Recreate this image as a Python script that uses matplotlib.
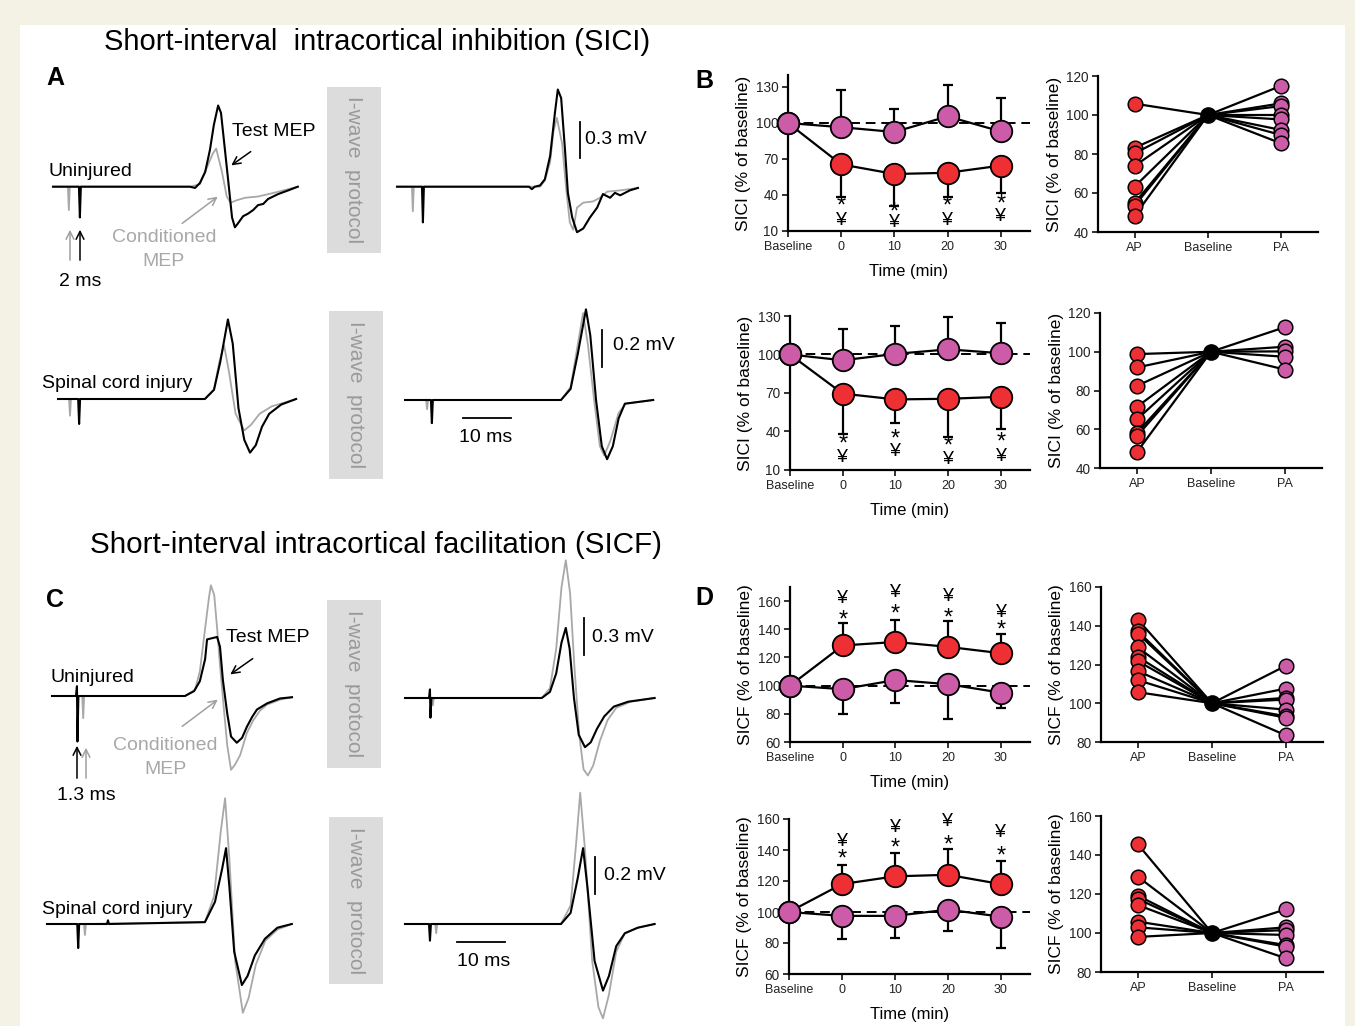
import matplotlib.pyplot as plt
from matplotlib.patches import Rectangle
from matplotlib.transforms import offset_copy

plt.rcParams['font.family'] = ['Liberation Sans', 'DejaVu Sans']

W, H = 1355, 1026
RED = '#ee3034'
MAG = '#cc5ba8'
GREY = '#a8a8a8'

# ---- time course data (x: Baseline, 0, 10, 20, 30 min) ----
time_labels = ['Baseline', '0', '10', '20', '30']
time_pos = [-1, 0, 1, 2, 3]

sici_unj_ap = [100, 65.5, 57.5, 58.5, 64.5]
sici_unj_ap_err = [0, 27.5, 26.5, 20, 22.5]
sici_unj_pa = [100, 96.5, 92.5, 105.5, 93]
sici_unj_pa_err = [0, 31, 19, 26, 28]
sici_unj_star = [30, 25, 30, 32.4]
sici_unj_yen = [19, 17, 18.4, 21.8]

sici_sci_ap = [100, 69.5, 65, 65.5, 67]
sici_sci_ap_err = [0, 31.5, 18.5, 29.5, 25]
sici_sci_pa = [100, 95.5, 100.5, 104, 101]
sici_sci_pa_err = [0, 24, 21.5, 25, 23.5]
sici_sci_star = [30, 33.8, 28, 31.2]
sici_sci_yen = [19.8, 24.2, 17.8, 20.9]

sicf_unj_ap = [100, 128.5, 131, 127.5, 123]
sicf_unj_ap_err = [0, 16, 15.5, 18.7, 13.3]
sicf_unj_pa = [100, 97.5, 104, 101, 95]
sicf_unj_pa_err = [0, 17.5, 16.3, 24.6, 11]
sicf_unj_star = [150.5, 154.5, 151.7, 143.4]
sicf_unj_yen = [162, 166, 163, 152]

sicf_sci_ap = [100, 118, 123, 124, 118]
sicf_sci_ap_err = [0, 12.3, 15, 16.6, 15.1]
sicf_sci_pa = [100, 97.5, 97.5, 101.5, 97]
sicf_sci_pa_err = [0, 15.1, 14.5, 13.5, 20.4]
sicf_sci_star = [138, 145, 147, 139.7]
sicf_sci_yen = [145.6, 154.2, 158.5, 151]

# ---- individual data (AP / Baseline / PA) ----
ind_labels = ['AP', 'Baseline', 'PA']
sici_unj_ind_ap = [105.8, 83.2, 80.3, 73.9, 63.3, 54.9, 53.5, 48.3]
sici_unj_ind_pa = [115, 106, 104.6, 100, 97.7, 92.3, 89.7, 85.4]
sici_sci_ind_ap = [98.8, 91.9, 82.4, 71.6, 65.1, 58.2, 56.5, 48.3]
sici_sci_ind_pa = [112.7, 102.6, 100.2, 97.4, 90.8]
sicf_unj_ind_ap = [143.1, 137.1, 135.9, 128.8, 123.9, 121.7, 116.5, 111.9, 105.7]
sicf_unj_ind_pa = [119.4, 107.6, 102.8, 101.9, 96.7, 93.3, 92.5, 83.4]
sicf_sci_ind_ap = [145.4, 128.8, 119.1, 117.4, 114.3, 105.8, 102.9, 98]
sicf_sci_ind_pa = [112.2, 102.9, 101.5, 99, 93.8, 93, 87]

# ---- example MEP traces (ms, mV) ----
a_unj_l_test = [(0, 0), (5.4, 0), (5.6, -0.25), (5.8, 0), (28.5, 0), (29.6, -0.01), (30.6, 0.03),
                (31.7, 0.12), (32.7, 0.30), (33.5, 0.50), (34.4, 0.66), (35.0, 0.60), (35.6, 0.38),
                (36.5, 0.05), (37.3, -0.25), (37.9, -0.33), (38.5, -0.30), (39.6, -0.24), (40.6, -0.22),
                (41.7, -0.19), (42.7, -0.15), (43.8, -0.14), (44.8, -0.10), (46.9, -0.06), (49.0, -0.03),
                (51.0, 0)]
a_unj_l_cond = [(0, 0), (3.1, 0), (3.3, -0.19), (3.5, 0), (28.5, 0), (30.6, 0.02), (32.0, 0.15),
                (33.3, 0.27), (34.0, 0.31), (35.2, 0.12), (36.2, -0.08), (37.0, -0.13), (38.3, -0.11),
                (40.0, -0.09), (42.7, -0.08), (46.0, -0.05), (51.0, 0)]
a_unj_r_test = [(0, 0), (5.2, 0), (5.4, -0.29), (5.6, 0), (27.5, 0), (28.1, -0.02), (28.7, 0),
                (29.8, 0.01), (30.8, 0.06), (31.9, 0.25), (32.9, 0.60), (33.5, 0.79), (34.2, 0.72),
                (35.0, 0.30), (35.6, -0.05), (36.5, -0.25), (37.5, -0.37), (38.8, -0.34), (40.2, -0.25),
                (41.7, -0.17), (42.9, -0.06), (44.4, -0.09), (45.4, -0.05), (46.5, -0.07), (48.5, -0.03),
                (50.2, -0.01)]
a_unj_r_cond = [(0, 0), (3.1, 0), (3.3, -0.20), (3.5, 0), (29.8, 0), (30.8, 0.05), (31.9, 0.2),
                (32.6, 0.45), (33.3, 0.56), (34.4, 0.35), (35.2, 0.0), (36.0, -0.29), (36.7, -0.35),
                (37.5, -0.17), (38.8, -0.13), (40.8, -0.12), (42.3, -0.09), (43.8, -0.04), (46.5, -0.03),
                (50.2, -0.01)]
a_sci_l_test = [(0, 0), (4.2, 0), (4.4, -0.135), (4.6, 0), (30.6, 0), (32.5, 0.05), (33.8, 0.2),
                (35.4, 0.43), (36.4, 0.3), (37.6, -0.05), (38.8, -0.22), (40.0, -0.29), (41.2, -0.25),
                (42.5, -0.15), (44.0, -0.08), (46.5, -0.03), (49.6, 0)]
a_sci_l_cond = [(0, 0), (2.3, 0), (2.5, -0.09), (2.7, 0), (30.6, 0), (32.5, 0.05), (33.6, 0.2),
                (34.6, 0.29), (35.6, 0.15), (37.0, -0.08), (38.8, -0.17), (40.2, -0.14), (42.0, -0.08),
                (44.5, -0.04), (49.6, 0)]
a_sci_r_test = [(0, 0), (5.4, 0), (5.6, -0.125), (5.8, 0), (32.5, 0), (34.5, 0.06), (36.0, 0.25),
                (37.7, 0.49), (38.6, 0.35), (39.8, 0.0), (41.0, -0.25), (42.1, -0.32), (43.3, -0.25),
                (44.5, -0.1), (45.8, -0.02), (51.7, 0)]
a_sci_r_cond = [(0, 0), (4.4, 0), (4.6, -0.05), (4.8, 0), (32.5, 0), (34.5, 0.07), (36.0, 0.3),
                (37.1, 0.47), (38.1, 0.3), (39.4, 0.0), (40.6, -0.25), (41.5, -0.30), (42.8, -0.22),
                (44.5, -0.07), (46.0, -0.02), (51.7, 0)]
c_unj_l_test = [(0, 0), (5.0, 0), (5.2, 0.08), (5.3, -0.37), (5.5, 0), (27.7, 0), (29.6, 0.04),
                (30.8, 0.12), (31.9, 0.30), (32.3, 0.46), (34.4, 0.48), (35.0, 0.40), (35.6, 0.13),
                (36.5, -0.14), (37.3, -0.33), (38.5, -0.38), (39.6, -0.34), (40.6, -0.25), (41.7, -0.17),
                (42.7, -0.11), (44.8, -0.06), (47.5, -0.02), (50.0, -0.01)]
c_unj_l_cond = [(0, 0), (6.3, 0), (6.5, -0.18), (6.7, 0), (27.7, 0), (29.8, 0.05), (30.8, 0.2),
                (31.9, 0.55), (32.7, 0.80), (33.1, 0.90), (33.8, 0.82), (34.4, 0.55), (35.0, 0.25),
                (35.8, -0.1), (36.5, -0.4), (37.3, -0.6), (38.1, -0.56), (39.2, -0.48), (40.6, -0.3),
                (41.9, -0.2), (43.3, -0.12), (44.8, -0.07), (47.5, -0.03), (50.0, -0.01)]
c_unj_r_test = [(0, 0), (5.0, 0), (5.2, 0.07), (5.3, -0.16), (5.5, 0), (28.5, 0), (30.2, 0.05),
                (31.5, 0.2), (32.6, 0.45), (33.5, 0.57), (34.3, 0.4), (35.2, 0.0), (36.2, -0.3),
                (37.5, -0.40), (38.7, -0.36), (40.0, -0.25), (41.5, -0.15), (43.5, -0.07), (46.5, -0.03),
                (52.0, 0)]
c_unj_r_cond = [(0, 0), (5.6, 0), (5.8, -0.06), (6.0, 0), (28.5, 0), (30.2, 0.08), (31.5, 0.4),
                (32.6, 0.9), (33.5, 1.12), (34.4, 0.85), (35.3, 0.25), (36.3, -0.3), (37.2, -0.58),
                (38.1, -0.63), (39.2, -0.55), (40.6, -0.35), (42.2, -0.18), (44.0, -0.08), (47.0, -0.03),
                (52.0, 0)]
c_sci_l_test = [(0, 0), (6.3, 0), (6.5, -0.13), (6.7, 0), (12.5, 0), (12.7, 0.02), (12.9, 0),
                (32.9, 0.01), (35.0, 0.12), (36.5, 0.30), (37.3, 0.41), (38.0, 0.2), (39.0, -0.15),
                (40.6, -0.33), (41.8, -0.28), (43.3, -0.17), (45.4, -0.08), (48.0, -0.02), (51.0, 0)]
c_sci_l_cond = [(0, 0), (7.7, 0), (7.9, -0.06), (8.1, 0), (32.9, 0.01), (34.8, 0.15),
                (36.2, 0.5), (37.1, 0.68), (38.0, 0.35), (39.2, -0.2), (40.8, -0.48), (42.0, -0.4),
                (43.5, -0.22), (45.5, -0.09), (48.0, -0.03), (51.0, 0)]
c_sci_r_test = [(0, 0), (5.0, 0), (5.2, -0.09), (5.4, 0), (32.5, 0), (34.5, 0.06), (36.0, 0.25),
                (37.1, 0.41), (38.0, 0.2), (39.5, -0.2), (41.25, -0.36), (42.5, -0.28), (44.0, -0.12),
                (45.8, -0.05), (48.5, -0.02), (52.0, 0)]
c_sci_r_cond = [(0, 0), (6.3, 0), (6.5, -0.05), (6.7, 0), (32.5, 0), (34.5, 0.1), (35.7, 0.45),
                (36.5, 0.71), (37.5, 0.4), (39.0, -0.2), (40.3, -0.45), (41.25, -0.51), (42.5, -0.38),
                (44.0, -0.15), (45.8, -0.05), (48.5, -0.02), (52.0, 0)]

PX_PER_MS = 4.8

fig = plt.figure(figsize=(W / 100, H / 100), dpi=100)
fig.patch.set_facecolor('#f4f1e5')
fig.patches.append(Rectangle((20 / W, 0), 1325 / W, (H - 25) / H, transform=fig.transFigure,
                             facecolor='white', edgecolor='none', zorder=-10))


def px_axes(left, top, right, bottom):
    ax = fig.add_axes([left / W, 1 - bottom / H, (right - left) / W, (bottom - top) / H])
    ax.patch.set_alpha(0)
    return ax


# overlay in pixel coordinates for labels and arrows
ov = fig.add_axes([0, 0, 1, 1], zorder=5)
ov.set_xlim(0, W); ov.set_ylim(H, 0); ov.axis('off'); ov.patch.set_alpha(0)


def style(ax):
    for s in ['top', 'right']:
        ax.spines[s].set_visible(False)
    for s in ['left', 'bottom']:
        ax.spines[s].set_linewidth(1.6)
    ax.tick_params(direction='out', length=4, width=1.3, labelsize=9.8, colors='#222222', pad=3)


def time_plot(box, ylim, yticks, ap, ap_err, pa, pa_err, ap_down, star, yen, ylabel):
    ax = px_axes(*box)
    style(ax)
    ax.axhline(100, color='k', lw=1.4, ls=(0, (5, 3)), zorder=1)
    zero = [0] * len(ap)
    ap_yerr = [ap_err, zero] if ap_down else [zero, ap_err]
    pa_yerr = [zero, pa_err] if ap_down else [pa_err, zero]
    for vals, yerr, col in [(ap, ap_yerr, RED), (pa, pa_yerr, MAG)]:
        ax.errorbar(time_pos, vals, yerr=yerr, color='k', lw=1.6, capsize=3.6, capthick=1.6,
                    fmt='-', zorder=2, clip_on=False)
        ax.plot(time_pos, vals, 'o', ms=15.5, mfc=col, mec='k', mew=1.3, zorder=3, clip_on=False)
    # asterisk under the yen sign (SICF) sits a little lower
    star_tr = offset_copy(ax.transData, fig=fig, y=0 if ap_down else -6, units='dots')
    for x, s, y in zip(time_pos[1:], star, yen):
        ax.text(x, s, '*', ha='center', va='center', fontsize=17, zorder=4, transform=star_tr)
        ax.text(x, y, '¥', ha='center', va='center', fontsize=14, zorder=4)
    ax.set_xlim(-1, 3.55)
    ax.set_ylim(*ylim)
    ax.set_yticks(yticks)
    ax.set_xticks(time_pos)
    ax.set_xticklabels(time_labels)
    for lab in ax.get_xticklabels():
        lab.set_fontsize(9)
    ax.set_ylabel(ylabel, fontsize=12.5, labelpad=3)
    ax.set_xlabel('Time (min)', fontsize=12, labelpad=8)
    return ax


def ind_plot(box, ylim, yticks, ap, pa, ylabel):
    ax = px_axes(*box)
    style(ax)
    for v in ap:
        ax.plot([0, 1], [v, 100], color='k', lw=1.6, zorder=1)
    for v in pa:
        ax.plot([1, 2], [100, v], color='k', lw=1.6, zorder=1)
    ax.plot([0] * len(ap), ap, 'o', ms=10.5, mfc=RED, mec='k', mew=1.1, zorder=3)
    ax.plot([2] * len(pa), pa, 'o', ms=10.5, mfc=MAG, mec='k', mew=1.1, zorder=3)
    ax.plot([1], [100], 'o', ms=11, color='k', zorder=3)
    ax.set_xlim(-0.5, 2.5)
    ax.set_ylim(*ylim)
    ax.set_yticks(yticks)
    ax.set_xticks([0, 1, 2])
    ax.set_xticklabels(ind_labels)
    for lab in ax.get_xticklabels():
        lab.set_fontsize(9)
    ax.set_ylabel(ylabel, fontsize=12.5, labelpad=3)
    return ax


time_plot((788, 75, 1030, 231), (10, 140), [10, 40, 70, 100, 130], sici_unj_ap, sici_unj_ap_err,
          sici_unj_pa, sici_unj_pa_err, True, sici_unj_star, sici_unj_yen, 'SICI (% of baseline)')
time_plot((790, 316, 1030, 470), (10, 130), [10, 40, 70, 100, 130], sici_sci_ap, sici_sci_ap_err,
          sici_sci_pa, sici_sci_pa_err, True, sici_sci_star, sici_sci_yen, 'SICI (% of baseline)')
time_plot((790, 587, 1030, 742), (60, 170), [60, 80, 100, 120, 140, 160], sicf_unj_ap, sicf_unj_ap_err,
          sicf_unj_pa, sicf_unj_pa_err, False, sicf_unj_star, sicf_unj_yen, 'SICF (% of baseline)')
time_plot((789, 819, 1030, 974), (60, 160), [60, 80, 100, 120, 140, 160], sicf_sci_ap, sicf_sci_ap_err,
          sicf_sci_pa, sicf_sci_pa_err, False, sicf_sci_star, sicf_sci_yen, 'SICF (% of baseline)')

ind_plot((1098, 76, 1318, 232), (40, 120), [40, 60, 80, 100, 120], sici_unj_ind_ap, sici_unj_ind_pa,
         'SICI (% of baseline)')
ind_plot((1100, 313, 1322, 468), (40, 120), [40, 60, 80, 100, 120], sici_sci_ind_ap, sici_sci_ind_pa,
         'SICI (% of baseline)')
ind_plot((1101, 587, 1323, 742), (80, 160), [80, 100, 120, 140, 160], sicf_unj_ind_ap, sicf_unj_ind_pa,
         'SICF (% of baseline)')
ind_plot((1101, 816, 1323, 972), (80, 160), [80, 100, 120, 140, 160], sicf_sci_ind_ap, sicf_sci_ind_pa,
         'SICF (% of baseline)')


def trace_ax(x0, y0, gain, test, cond):
    ax = px_axes(x0, y0 - 230, x0 + 280, y0 + 130)
    ax.axis('off')
    ax.set_xlim(0, 280 / PX_PER_MS)
    ax.set_ylim(-130 / gain, 230 / gain)
    ax.plot([p[0] for p in cond], [p[1] for p in cond], color=GREY, lw=1.3, clip_on=False)
    ax.plot([p[0] for p in test], [p[1] for p in test], color='k', lw=1.5, clip_on=False)
    return ax


trace_ax(53, 186.7, 123, a_unj_l_test, a_unj_l_cond)
ax_ar = trace_ax(397, 186.7, 123, a_unj_r_test, a_unj_r_cond)
trace_ax(58, 399, 185, a_sci_l_test, a_sci_l_cond)
ax_sr = trace_ax(405, 400, 185, a_sci_r_test, a_sci_r_cond)
trace_ax(52, 696, 123, c_unj_l_test, c_unj_l_cond)
ax_cr = trace_ax(405, 698, 123, c_unj_r_test, c_unj_r_cond)
trace_ax(47, 924, 185, c_sci_l_test, c_sci_l_cond)
ax_dr = trace_ax(405, 924, 185, c_sci_r_test, c_sci_r_cond)

# scale bars
ax_ar.plot([38.1, 38.1], [0.23, 0.53], color='k', lw=1.3)
ax_sr.plot([41.0, 41.0], [0.18, 0.38], color='k', lw=1.3)
ax_sr.plot([12.1, 22.1], [-0.097, -0.097], color='k', lw=1.3)
ax_cr.plot([37.3, 37.3], [0.35, 0.65], color='k', lw=1.3)
ax_dr.plot([39.6, 39.6], [0.16, 0.36], color='k', lw=1.3)
ax_dr.plot([10.8, 20.8], [-0.097, -0.097], color='k', lw=1.3)

# grey "I-wave protocol" boxes
for (x, y, w, h) in [(327, 87, 54, 166), (329, 311, 54, 168), (327, 600, 54, 168), (329, 817, 54, 167)]:
    ov.add_patch(Rectangle((x, y), w, h, facecolor='#dcdcdc', edgecolor='none'))
    ov.text(x + w / 2, y + h / 2, 'I-wave  protocol', rotation=-90, ha='center', va='center',
            fontsize=15, color='#9a9a9a')

# titles and panel letters
ov.text(377, 42, 'Short-interval  intracortical inhibition (SICI)', ha='center', va='center', fontsize=21)
ov.text(376, 545, 'Short-interval intracortical facilitation (SICF)', ha='center', va='center', fontsize=21.3)
for s, x, y in [('A', 55, 78), ('B', 704, 81), ('C', 55, 600), ('D', 704, 598)]:
    ov.text(x, y, s, ha='center', va='center', fontsize=18, fontweight='bold')

# trace labels
lab = dict(fontsize=14, va='center')
ov.text(48, 172, 'Uninjured', **lab)
ov.text(232, 132, 'Test MEP', **lab)
ov.text(164, 237, 'Conditioned', color=GREY, ha='center', **lab)
ov.text(164, 262, 'MEP', color=GREY, ha='center', **lab)
ov.text(80, 282, '2 ms', ha='center', **lab)
ov.text(42, 383, 'Spinal cord injury', **lab)
ov.text(585, 140, '0.3 mV', **lab)
ov.text(613, 346, '0.2 mV', **lab)
ov.text(486, 437, '10 ms', ha='center', **lab)

ov.text(51, 677, 'Uninjured', **lab)
ov.text(226, 638, 'Test MEP', **lab)
ov.text(165, 746, 'Conditioned', color=GREY, ha='center', **lab)
ov.text(165, 770, 'MEP', color=GREY, ha='center', **lab)
ov.text(86, 796, '1.3 ms', ha='center', **lab)
ov.text(42, 910, 'Spinal cord injury', **lab)
ov.text(592, 637, '0.3 mV', **lab)
ov.text(604, 875, '0.2 mV', **lab)
ov.text(484, 962, '10 ms', ha='center', **lab)

# arrows
arr_k = dict(arrowstyle='->', color='k', lw=1.1, mutation_scale=14)
arr_g = dict(arrowstyle='->', color='#a0a0a0', lw=1.1, mutation_scale=14)
ov.annotate('', xy=(229, 167), xytext=(253, 150), arrowprops=arr_k)
ov.annotate('', xy=(220, 195), xytext=(180, 225), arrowprops=arr_g)
ov.annotate('', xy=(70, 227), xytext=(70, 263), arrowprops=arr_g)
ov.annotate('', xy=(80, 227), xytext=(80, 263), arrowprops=arr_k)
ov.annotate('', xy=(228, 676), xytext=(255, 657), arrowprops=arr_k)
ov.annotate('', xy=(220, 698), xytext=(180, 728), arrowprops=arr_g)
ov.annotate('', xy=(77, 743), xytext=(77, 781), arrowprops=arr_k)
ov.annotate('', xy=(86, 745), xytext=(86, 781), arrowprops=arr_g)

fig.savefig('out.png', dpi=100, facecolor=fig.get_facecolor())
